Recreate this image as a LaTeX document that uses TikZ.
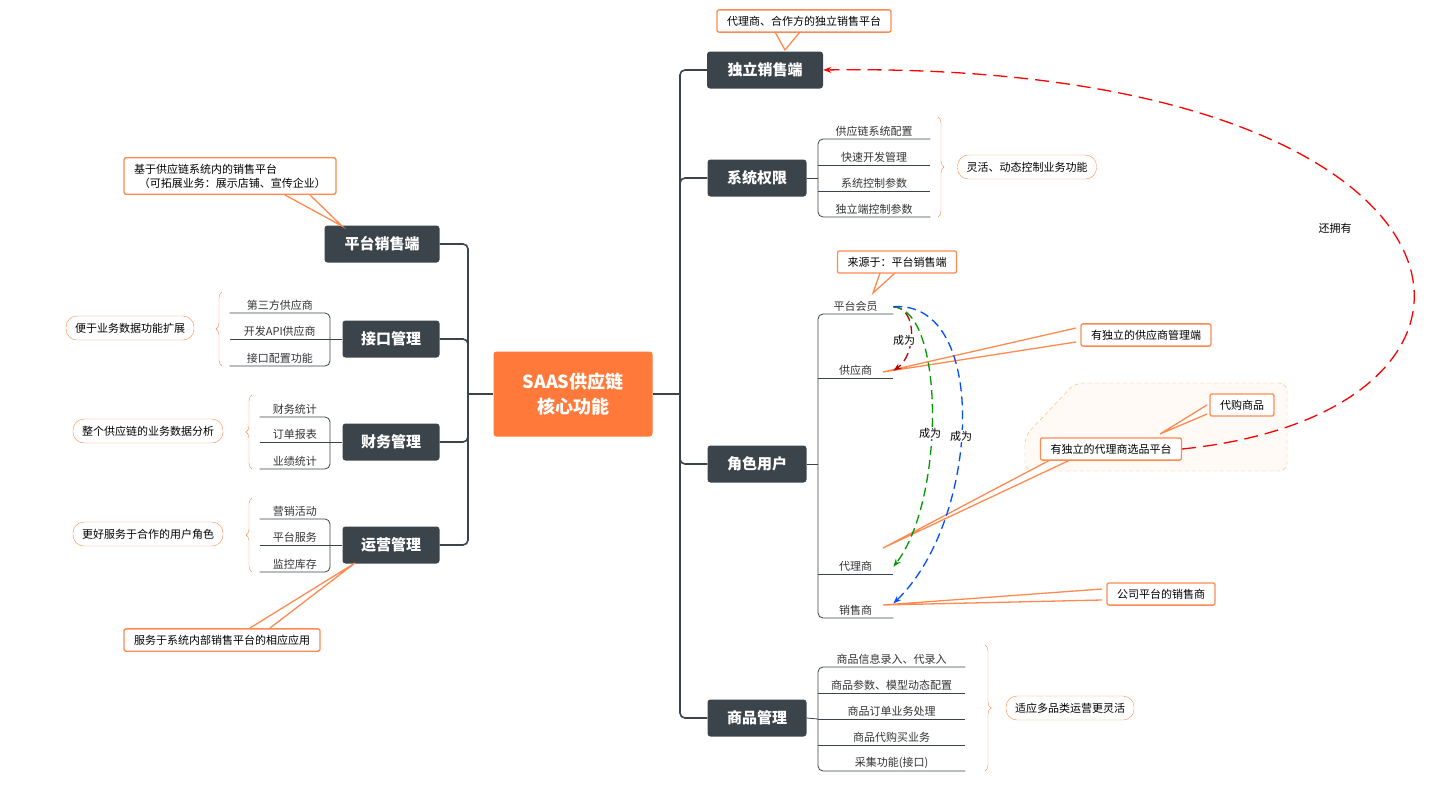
\documentclass[tikz,border=0pt]{standalone}
\usepackage{fontspec}
\setmainfont{Noto Sans CJK SC}
\usetikzlibrary{positioning, arrows.meta, decorations.pathreplacing}
\definecolor{dark}{HTML}{3B434B}
\definecolor{org}{HTML}{FF7A3A}
\definecolor{lorg}{HTML}{FF8A50}
\tikzset{
  topic/.style={rectangle, rounded corners=3pt, fill=dark, text=white, font=\bfseries\fontsize{15}{18}\selectfont, minimum height=37, inner xsep=10},
  leaf/.style={inner sep=2, font=\fontsize{11}{13}\selectfont, text=black!80},
  trunk/.style={draw=dark, line width=1.6, rounded corners=5},
  twig/.style={draw=dark, line width=0.8, rounded corners=5},
  pill/.style={draw=lorg, rounded corners=11, fill=white, font=\fontsize{11}{13}\selectfont, minimum height=24, inner xsep=9},
  note/.style={draw=lorg, line width=1.3, rounded corners=2, fill=white, font=\fontsize{11}{14}\selectfont, inner xsep=10, inner ysep=6},
  ptr/.style={draw=lorg, line width=1.3, fill=white},
  brc/.style={draw=lorg, decorate, decoration={brace, amplitude=6}},
  rel/.style={line width=1.3, dash pattern=on 9pt off 5pt, -{Stealth[length=8]}},
  rlab/.style={fill=white, inner sep=1, font=\fontsize{11}{13}\selectfont}
}
\begin{document}
\begin{tikzpicture}[x=1pt, y=-1pt]
\useasboundingbox (0,0) rectangle (1442,787);

% center
\node[rectangle, rounded corners=3pt, fill=org, text=white, font=\bfseries\fontsize{18}{25}\selectfont, minimum width=159, minimum height=85, align=center] (core) at (573,394) {SAAS供应链\\核心功能};

% left topics
\node[topic, minimum width=115] (pt) at (382,244) {平台销售端};
\node[topic, minimum width=97] (jk) at (391,339) {接口管理};
\node[topic, minimum width=97] (cw) at (391,442) {财务管理};
\node[topic, minimum width=97] (yy) at (391,545) {运营管理};
\coordinate (lhub) at (468,394);
\draw[trunk] (core.west) -- (lhub);
\foreach \t in {pt, jk, cw, yy} \draw[trunk] (\t.east) -| (lhub);

% right topics
\node[topic, minimum width=116] (zd) at (765,70) {独立销售端};
\node[topic, minimum width=99] (xt) at (757,178) {系统权限};
\node[topic, minimum width=99] (js) at (757,464) {角色用户};
\node[topic, minimum width=99] (sp) at (757,718) {商品管理};
\coordinate (rhub) at (680,394);
\draw[trunk] (core.east) -- (rhub);
\foreach \t in {zd, xt, js, sp} \draw[trunk] (\t.west) -| (rhub);

% 接口管理 leaves
\node[leaf, minimum width=100, anchor=south east] (jk1) at (330,313) {第三方供应商};
\node[leaf, minimum width=100, anchor=south east] (jk2) at (330,339) {开发API供应商};
\node[leaf, minimum width=100, anchor=south east] (jk3) at (330,366) {接口配置功能};
\draw[twig] (jk1.south west) -- (jk1.south east) -- (jk3.south east) -- (jk3.south west);
\draw[twig] (jk2.south west) -- (jk.west);
\draw[brc] (222,366) -- (222,292);
\node[pill] (jkp) at (130,328) {便于业务数据功能扩展};

% 财务管理 leaves
\node[leaf, minimum width=70, anchor=south east] (cw1) at (330,417) {财务统计};
\node[leaf, minimum width=70, anchor=south east] (cw2) at (330,442) {订单报表};
\node[leaf, minimum width=70, anchor=south east] (cw3) at (330,469) {业绩统计};
\draw[twig] (cw1.south west) -- (cw1.south east) -- (cw3.south east) -- (cw3.south west);
\draw[twig] (cw2.south west) -- (cw.west);
\draw[brc] (252,469) -- (252,395);
\node[pill] (cwp) at (148,431) {整个供应链的业务数据分析};

% 运营管理 leaves
\node[leaf, minimum width=70, anchor=south east] (yy1) at (330,519) {营销活动};
\node[leaf, minimum width=70, anchor=south east] (yy2) at (330,545) {平台服务};
\node[leaf, minimum width=70, anchor=south east] (yy3) at (330,572) {监控库存};
\draw[twig] (yy1.south west) -- (yy1.south east) -- (yy3.south east) -- (yy3.south west);
\draw[twig] (yy2.south west) -- (yy.west);
\draw[brc] (252,572) -- (252,498);
\node[pill] (yyp) at (148,534) {更好服务于合作的用户角色};

% 系统权限 leaves
\node[leaf, minimum width=112, anchor=south west] (xt1) at (818,139) {供应链系统配置};
\node[leaf, minimum width=112, anchor=south west] (xt2) at (818,165) {快速开发管理};
\node[leaf, minimum width=112, anchor=south west] (xt3) at (818,191) {系统控制参数};
\node[leaf, minimum width=112, anchor=south west] (xt4) at (818,217) {独立端控制参数};
\draw[twig] (xt1.south east) -- (xt1.south west) -- (xt4.south west) -- (xt4.south east);
\draw[twig] (xt2.south west) -- (xt2.south east);
\draw[twig] (xt3.south west) -- (xt3.south east);
\draw[twig] (xt.east) -- (818,178);
\draw[brc] (938,117) -- (938,217);
\node[pill] (xtp) at (1027,167) {灵活、动态控制业务功能};

% 角色用户 leaves
\node[leaf, minimum width=75, anchor=south west] (hy) at (818,314) {平台会员};
\node[leaf, minimum width=75, anchor=south west] (gy) at (818,378) {供应商};
\node[leaf, minimum width=75, anchor=south west] (dl) at (818,574) {代理商};
\node[leaf, minimum width=75, anchor=south west] (xs) at (818,618) {销售商};
\draw[twig] (hy.south east) -- (hy.south west) -- (xs.south west) -- (xs.south east);
\draw[twig] (gy.south west) -- (gy.south east);
\draw[twig] (dl.south west) -- (dl.south east);
\draw[twig] (js.east) -- (818,464);

% 商品管理 leaves
\node[leaf, minimum width=147, anchor=south west] (sp1) at (818,667) {商品信息录入、代录入};
\node[leaf, minimum width=147, anchor=south west] (sp2) at (818,693) {商品参数、模型动态配置};
\node[leaf, minimum width=147, anchor=south west] (sp3) at (818,719) {商品订单业务处理};
\node[leaf, minimum width=147, anchor=south west] (sp4) at (818,745) {商品代购买业务};
\node[leaf, minimum width=147, anchor=south west] (sp5) at (818,771) {采集功能(接口)};
\foreach \s in {sp2, sp3, sp4} \draw[twig] (\s.south west) -- (\s.south east);
\draw[twig] (sp1.south east) -- (sp1.south west) -- (sp5.south west) -- (sp5.south east);
\draw[twig] (sp.east) -- (sp3.south west);
\draw[brc] (985,645) -- (985,771);
\node[pill] (spp) at (1070,708) {适应多品类运营更灵活};

% callouts
\coordinate (c1) at (342,226);
\draw[ptr] (285,195) -- (c1) -- (310,195);
\node[note, align=left] (n1) at (230,176) {基于供应链系统内的销售平台\\\ \ （可拓展业务：展示店铺、宣传企业）};
\coordinate (c2) at (355,563);
\draw[ptr] (250,628) -- (c2) -- (270,628);
\node[note] (n2) at (222,640) {服务于系统内部销售平台的相应应用};
\coordinate (c3) at (785,50);
\draw[ptr] (775,32) -- (c3) -- (800,32);
\node[note] (n3) at (804,21) {代理商、合作方的独立销售平台};
\coordinate (c4) at (873,293);
\draw[ptr] (880,273) -- (c4) -- (895,273);
\node[note] (n4) at (897,262) {来源于：平台销售端};

% agent region
\draw[draw=orange!60, dash pattern=on 4pt off 3pt, fill=orange!4, rounded corners=8] (1025,436) -- (1075,383) -- (1287,383) -- (1287,471) -- (1025,471) -- cycle;

\coordinate (c5) at (883,372);
\draw[ptr] (1076,328) -- (c5) -- (1076,342);
\node[note] (n5) at (1146,335) {有独立的供应商管理端};
\coordinate (c6) at (883,548);
\draw[ptr] (1050,460) -- (c6) -- (1070,460);
\coordinate (c7) at (1160,434);
\draw[ptr] (1207,405) -- (c7) -- (1207,414);
\node[note] (n6) at (1111,449) {有独立的代理商选品平台};
\node[note] (n7) at (1242,405) {代购商品};
\coordinate (c8) at (883,605);
\draw[ptr] (1102,589) -- (c8) -- (1102,600);
\node[note] (n8) at (1161,594) {公司平台的销售商};

% relations
\draw[rel, draw=red!75!black] (hy.east) .. controls (918,308) and (916,355) .. (gy.east);
\node[rlab] (r1) at (904,340) {成为};
\draw[rel, draw=green!60!black] (hy.east) .. controls (945,310) and (945,500) .. (dl.east);
\node[rlab] (r2) at (930,433) {成为};
\draw[rel, draw=blue!70!cyan] (hy.east) .. controls (990,300) and (980,520) .. (xs.north east);
\node[rlab] (r3) at (961,436) {成为};
\draw[rel, draw=red, dash pattern=on 14pt off 7pt] (n6.east) .. controls (1560,410) and (1500,60) .. (zd.east);
\node[rlab] (r4) at (1335,228) {还拥有};
\end{tikzpicture}
\end{document}
